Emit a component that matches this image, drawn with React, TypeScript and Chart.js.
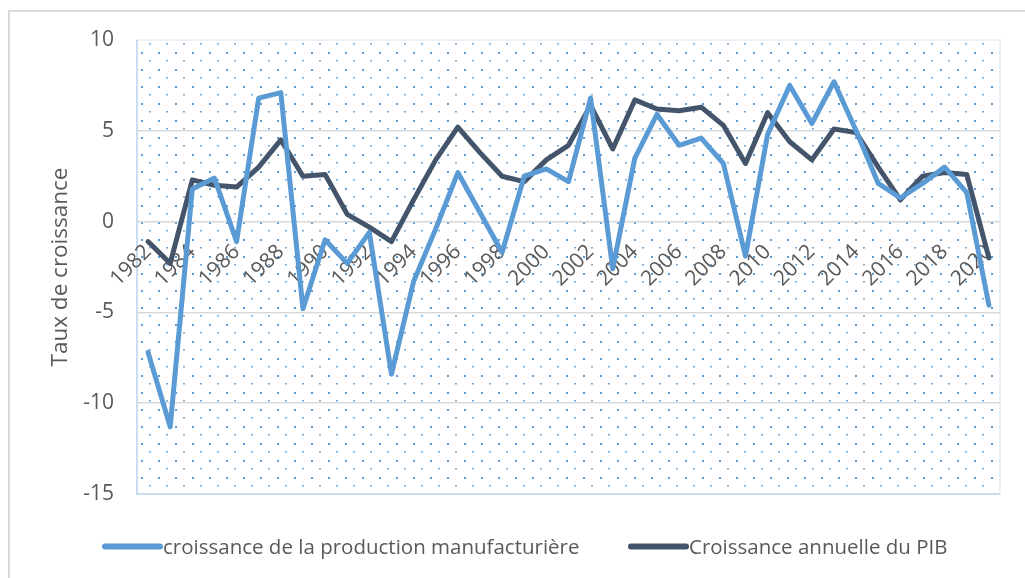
import React, { useEffect, useRef } from "react";
import { Chart, registerables } from "chart.js";

Chart.register(...registerables);

const years = [
  "1982", "1983", "1984", "1985", "1986", "1987", "1988", "1989", "1990", "1991",
  "1992", "1993", "1994", "1995", "1996", "1997", "1998", "1999", "2000", "2001",
  "2002", "2003", "2004", "2005", "2006", "2007", "2008", "2009", "2010", "2011",
  "2012", "2013", "2014", "2015", "2016", "2017", "2018", "2019", "2020",
];

const xTickLabels = [
  "1982", "1984", "1986", "1988", "1990", "1992", "1994", "1996", "1998", "2000",
  "2002", "2004", "2006", "2008", "2010", "2012", "2014", "2016", "2018", "2020",
];

const manufacturing = [
  -7.2, -11.3, 1.8, 2.4, -1.1, 6.8, 7.1, -4.8, -1.0, -2.3,
  -0.6, -8.4, -3.3, -0.4, 2.7, 0.5, -1.7, 2.5, 2.9, 2.2,
  6.8, -2.6, 3.5, 5.9, 4.2, 4.6, 3.2, -1.9, 4.8, 7.5,
  5.4, 7.7, 5.0, 2.1, 1.3, 2.1, 3.0, 1.6, -4.6,
];

const gdp = [
  -1.1, -2.3, 2.3, 2.0, 1.9, 3.0, 4.5, 2.5, 2.6, 0.4,
  -0.3, -1.1, 1.2, 3.4, 5.2, 3.8, 2.5, 2.2, 3.4, 4.2,
  6.4, 4.0, 6.7, 6.2, 6.1, 6.3, 5.3, 3.2, 6.0, 4.4,
  3.4, 5.1, 4.9, 3.0, 1.2, 2.5, 2.7, 2.6, -2.0,
];

const yTicks = [-15, -10, -5, 0, 5, 10];

const seriesNames = [
  "croissance de la production manufacturière",
  "Croissance annuelle du PIB",
];

const FONT = "'Open Sans', sans-serif";
const TEXT = "#595959";
const LIGHT = "#5b9bd5";
const DARK = "#44546a";

function makePattern(ctx: CanvasRenderingContext2D) {
  const tile = document.createElement("canvas");
  tile.width = 17;
  tile.height = 17;
  const t = tile.getContext("2d")!;
  t.fillStyle = "rgba(91,155,213,1)";
  t.fillRect(5, 1, 2, 2);
  t.fillStyle = "rgba(91,155,213,0.85)";
  t.fillRect(13, 9, 2, 1.5);
  return ctx.createPattern(tile, "repeat");
}

const backgroundPlugin = {
  id: "bgPattern",
  beforeDraw(chart: any) {
    const { ctx, chartArea } = chart;
    const { left, top, right, bottom } = chartArea;
    ctx.save();
    ctx.strokeStyle = "#d9d9d9";
    ctx.lineWidth = 2;
    ctx.strokeRect(9, 11, 1200, 1000);
    ctx.fillStyle = "#ffffff";
    ctx.fillRect(left, top, right - left, bottom - top);
    const pat = makePattern(ctx);
    if (pat) {
      ctx.fillStyle = pat;
      ctx.fillRect(left, top, right - left, bottom - top);
    }
    ctx.lineWidth = 2;
    ctx.strokeStyle = "#eaf1f9";
    ctx.beginPath();
    ctx.moveTo(left, top);
    ctx.lineTo(right, top);
    ctx.lineTo(right, bottom);
    ctx.stroke();
    ctx.strokeStyle = "#c9dcf0";
    ctx.beginPath();
    ctx.moveTo(left, top);
    ctx.lineTo(left, bottom);
    ctx.lineTo(right, bottom);
    ctx.stroke();
    ctx.restore();
  },
};

const legendPlugin = {
  id: "customLegend",
  afterDraw(chart: any) {
    const { ctx } = chart;
    const items = [
      { x1: 105, x2: 160, tx: 163, color: LIGHT, text: seriesNames[0] },
      { x1: 631, x2: 686, tx: 689, color: DARK, text: seriesNames[1] },
    ];
    const y = 546.5;
    ctx.save();
    ctx.lineCap = "round";
    ctx.lineWidth = 6;
    ctx.font = `20.5px ${FONT}`;
    ctx.textBaseline = "alphabetic";
    ctx.textAlign = "left";
    for (const it of items) {
      ctx.strokeStyle = it.color;
      ctx.beginPath();
      ctx.moveTo(it.x1, y);
      ctx.lineTo(it.x2, y);
      ctx.stroke();
      ctx.fillStyle = TEXT;
      ctx.fillText(it.text, it.tx, 554);
    }
    ctx.restore();
  },
};

export default function App() {
  const ref = useRef<HTMLCanvasElement | null>(null);

  useEffect(() => {
    document.body.style.margin = "0";
    document.body.style.overflow = "hidden";
    const canvas = ref.current!;
    const chart = new Chart(canvas, {
      type: "line",
      data: {
        labels: years,
        datasets: [
          {
            label: seriesNames[0],
            data: manufacturing,
            borderColor: LIGHT,
            backgroundColor: LIGHT,
            borderWidth: 5,
            pointRadius: 0,
            tension: 0,
            borderJoinStyle: "round",
            borderCapStyle: "round",
          },
          {
            label: seriesNames[1],
            data: gdp,
            borderColor: DARK,
            backgroundColor: DARK,
            borderWidth: 5,
            pointRadius: 0,
            tension: 0,
            borderJoinStyle: "round",
            borderCapStyle: "round",
          },
        ],
      },
      options: {
        responsive: false,
        animation: false,
        layout: { padding: { left: 0, right: 23, top: 40, bottom: 84 } },
        plugins: {
          legend: { display: false },
          tooltip: { enabled: false },
        },
        scales: {
          x: {
            type: "category",
            offset: true,
            position: { y: 0 } as any,
            grid: { display: false, drawTicks: false },
            border: { display: false },
            ticks: {
              autoSkip: false,
              minRotation: 45,
              maxRotation: 45,
              padding: 18,
              color: TEXT,
              font: { family: FONT, size: 21 },
              callback: function (this: any, value: any) {
                const lab = this.getLabelForValue(value);
                return xTickLabels.includes(lab) ? lab : "";
              },
            },
          },
          y: {
            min: yTicks[0],
            max: yTicks[yTicks.length - 1],
            afterBuildTicks: (scale: any) => {
              scale.ticks = yTicks.map((v) => ({ value: v }));
            },
            afterFit: (scale: any) => {
              scale.width = 137;
            },
            grid: {
              drawTicks: false,
              lineWidth: 1.5,
              color: (c: any) =>
                c.tick && (c.tick.value === yTicks[0] || c.tick.value === yTicks[yTicks.length - 1])
                  ? "rgba(0,0,0,0)"
                  : "#d9d9d9",
            },
            border: { display: false },
            ticks: {
              padding: 23,
              color: TEXT,
              font: { family: FONT, size: 21 },
            },
            title: {
              display: true,
              text: "Taux de croissance",
              color: TEXT,
              font: { family: FONT, size: 22.5 },
              padding: { top: 47, bottom: 0 },
            },
          },
        },
      },
      plugins: [backgroundPlugin, legendPlugin],
    });
    return () => chart.destroy();
  }, []);

  return (
    <div style={{ width: 1025, height: 578 }}>
      <canvas ref={ref} width={1025} height={578} style={{ display: "block" }} />
    </div>
  );
}
